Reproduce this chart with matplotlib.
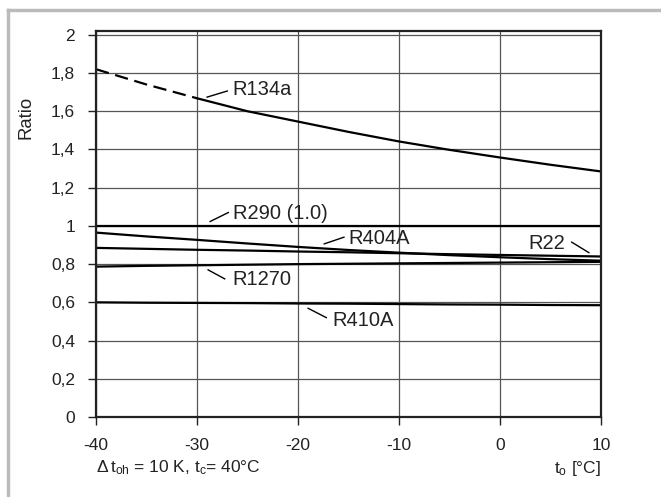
import matplotlib
matplotlib.use("Agg")
import matplotlib.pyplot as plt
from matplotlib.lines import Line2D

plt.rcParams['font.family'] = ['Liberation Sans', 'DejaVu Sans']
plt.rcParams['mathtext.fontset'] = 'custom'
plt.rcParams['mathtext.rm'] = 'Liberation Sans'
plt.rcParams['mathtext.it'] = 'Liberation Sans'

# evaporating temperature t_o [°C]
t_o = [-40, -35, -30, -25, -20, -15, -10, -5, 0, 5, 10]

r134a = [1.82, 1.74, 1.668, 1.60, 1.546, 1.492, 1.442, 1.398, 1.358, 1.32, 1.285]
r290 = [1.0] * 11
r404a = [0.965, 0.945, 0.927, 0.908, 0.89, 0.874, 0.86, 0.847, 0.836, 0.826, 0.818]
r22 = [0.885, 0.88, 0.875, 0.871, 0.866, 0.862, 0.857, 0.852, 0.848, 0.844, 0.84]
r1270 = [0.787, 0.791, 0.794, 0.797, 0.80, 0.802, 0.804, 0.806, 0.808, 0.81, 0.812]
r410a = [0.60, 0.598, 0.597, 0.596, 0.594, 0.593, 0.591, 0.589, 0.588, 0.586, 0.585]

yticks = [0, 0.2, 0.4, 0.6, 0.8, 1.0, 1.2, 1.4, 1.6, 1.8, 2.0]
ytick_labels = ['0', '0,2', '0,4', '0,6', '0,8', '1', '1,2', '1,4', '1,6', '1,8', '2']
xticks = [-40, -30, -20, -10, 0, 10]

# label text, text position, leader line start/end (data coords)
labels = [
    ('R134a', (-26.5, 1.716), (-29.0, 1.674), (-27.0, 1.706)),
    ('R290 (1.0)', (-26.4, 1.063), (-28.7, 1.023), (-26.9, 1.070)),
    ('R404A', (-15.05, 0.936), (-17.4, 0.906), (-15.45, 0.941)),
    ('R1270', (-26.5, 0.721), (-28.9, 0.770), (-27.26, 0.723)),
    ('R410A', (-16.55, 0.504), (-19.0, 0.569), (-17.2, 0.520)),
    ('R22', (2.85, 0.906), (7.1, 0.915), (8.8, 0.86)),
]

fig = plt.figure(figsize=(6.61, 4.97), dpi=100)
ax = fig.add_axes([96/661, 1-417/497, 505/661, 386/497])

lw = 1.6
# R134a: dashed part below -30
ax.plot(t_o[:3], r134a[:3], color='black', lw=lw, ls=(0, (6, 3)))
ax.plot(t_o[2:], r134a[2:], color='black', lw=lw)
for s in [r290, r404a, r22, r1270, r410a]:
    ax.plot(t_o, s, color='black', lw=lw)

for txt, tp, p0, p1 in labels:
    ax.plot([p0[0], p1[0]], [p0[1], p1[1]], color='black', lw=1.0)
    ax.text(tp[0], tp[1], txt, fontsize=14.5, va='center', ha='left', color='#222222')

ax.set_xlim(-40, 10)
ax.set_ylim(0, 2.02)
ax.set_xticks(xticks)
ax.set_xticklabels([str(v) for v in xticks])
ax.set_yticks(yticks)
ax.set_yticklabels(ytick_labels)
ax.tick_params(direction='out', length=6, width=1, pad=9, labelsize=12.5, colors='#222222')
ax.grid(True, color='#555555', lw=0.9)
ax.set_axisbelow(True)
for sp in ax.spines.values():
    sp.set_linewidth(1.6)
    sp.set_color('#222222')

ax.set_ylabel('Ratio', fontsize=13.3, color='#222222')
ax.yaxis.set_label_coords(-0.121, 0.777)

fig.text(96/661, 1-468/497, r'$\Delta\,$t$_{\mathregular{oh}}$ = 10 K, t$_{\mathregular{c}}$= 40°C',
         fontsize=12.5, va='center', ha='left', color='#222222')
fig.text(601/661, 1-468/497, r't$_{\mathregular{o}}$ [°C]',
         fontsize=12.5, va='center', ha='right', color='#222222')

# light gray frame (top and left)
fig.add_artist(Line2D([8/661, 1], [1-10/497, 1-10/497], color='#bbbbbb', lw=2.5))
fig.add_artist(Line2D([8/661, 8/661], [0, 1-10/497], color='#bbbbbb', lw=2.5))

fig.savefig('out.png', dpi=100)
